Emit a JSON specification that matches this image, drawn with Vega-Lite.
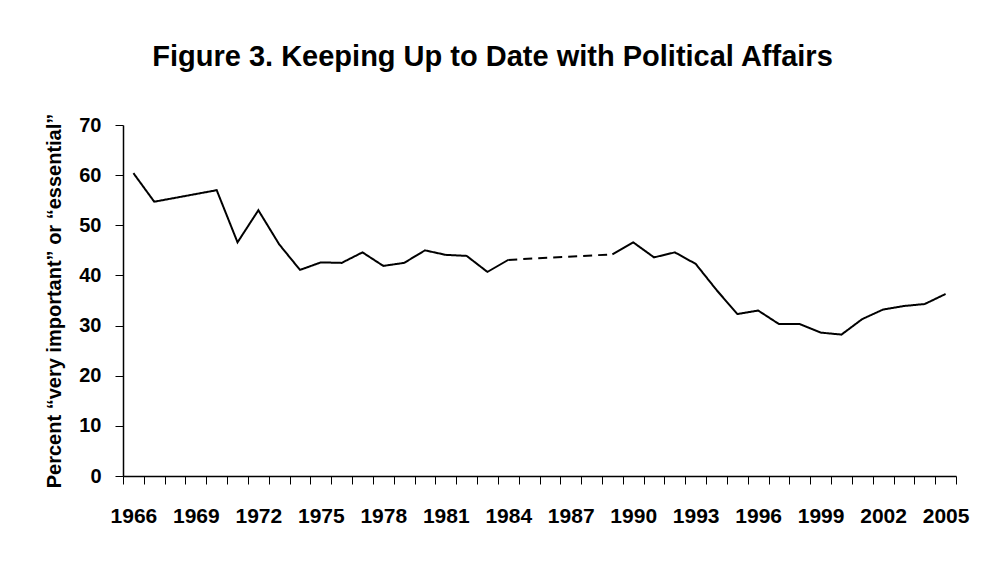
{
  "$schema": "https://vega.github.io/schema/vega-lite/v6.json",
  "width": 833,
  "height": 351,
  "autosize": {"type": "none"},
  "padding": {"left": 123, "top": 125, "right": 32, "bottom": 91},
  "background": "white",
  "config": {
    "view": {"stroke": null},
    "font": "Liberation Sans",
    "axis": {"domainColor": "black", "tickColor": "black", "labelColor": "black", "titleColor": "black", "grid": false}
  },
  "title": {
    "text": "Figure 3. Keeping Up to Date with Political Affairs",
    "font": "Liberation Sans",
    "fontSize": 29,
    "fontWeight": "bold",
    "color": "black",
    "anchor": "middle",
    "dx": -47,
    "offset": 41
  },
  "data": {
    "values": [
      {"year": 1966, "value": 60.4, "part": "A"},
      {"year": 1967, "value": 54.7, "part": "A"},
      {"year": 1970, "value": 57.0, "part": "A"},
      {"year": 1971, "value": 46.6, "part": "A"},
      {"year": 1972, "value": 53.0, "part": "A"},
      {"year": 1973, "value": 46.2, "part": "A"},
      {"year": 1974, "value": 41.1, "part": "A"},
      {"year": 1975, "value": 42.6, "part": "A"},
      {"year": 1976, "value": 42.5, "part": "A"},
      {"year": 1977, "value": 44.6, "part": "A"},
      {"year": 1978, "value": 41.9, "part": "A"},
      {"year": 1979, "value": 42.5, "part": "A"},
      {"year": 1980, "value": 45.0, "part": "A"},
      {"year": 1981, "value": 44.1, "part": "A"},
      {"year": 1982, "value": 43.9, "part": "A"},
      {"year": 1983, "value": 40.7, "part": "A"},
      {"year": 1984, "value": 43.1, "part": "A"},
      {"year": 1984, "value": 43.1, "part": "B"},
      {"year": 1989, "value": 44.2, "part": "B"},
      {"year": 1989, "value": 44.2, "part": "C"},
      {"year": 1990, "value": 46.6, "part": "C"},
      {"year": 1991, "value": 43.6, "part": "C"},
      {"year": 1992, "value": 44.6, "part": "C"},
      {"year": 1993, "value": 42.3, "part": "C"},
      {"year": 1994, "value": 37.1, "part": "C"},
      {"year": 1995, "value": 32.3, "part": "C"},
      {"year": 1996, "value": 33.0, "part": "C"},
      {"year": 1997, "value": 30.3, "part": "C"},
      {"year": 1998, "value": 30.3, "part": "C"},
      {"year": 1999, "value": 28.6, "part": "C"},
      {"year": 2000, "value": 28.2, "part": "C"},
      {"year": 2001, "value": 31.3, "part": "C"},
      {"year": 2002, "value": 33.2, "part": "C"},
      {"year": 2003, "value": 33.9, "part": "C"},
      {"year": 2004, "value": 34.3, "part": "C"},
      {"year": 2005, "value": 36.3, "part": "C"}
    ]
  },
  "mark": {"type": "line", "color": "black", "strokeWidth": 2},
  "encoding": {
    "x": {
      "field": "year",
      "type": "quantitative",
      "scale": {"domain": [1965.5, 2005.5], "nice": false, "zero": false},
      "axis": {
        "title": null,
        "values": [1965.5, 1966.5, 1967.5, 1968.5, 1969.5, 1970.5, 1971.5, 1972.5, 1973.5, 1974.5, 1975.5, 1976.5, 1977.5, 1978.5, 1979.5, 1980.5, 1981.5, 1982.5, 1983.5, 1984.5, 1985.5, 1986.5, 1987.5, 1988.5, 1989.5, 1990.5, 1991.5, 1992.5, 1993.5, 1994.5, 1995.5, 1996.5, 1997.5, 1998.5, 1999.5, 2000.5, 2001.5, 2002.5, 2003.5, 2004.5, 2005.5],
        "labelExpr": "((datum.value + 0.5 - 1966) % 3 === 0 && datum.value < 2005) ? '' + (datum.value + 0.5) : ''",
        "labelOffset": 10.4,
        "labelOverlap": false,
        "labelFlush": false,
        "labelFont": "Liberation Sans",
        "labelFontSize": 21,
        "labelFontWeight": "bold",
        "labelPadding": 21,
        "tickSize": 8,
        "tickWidth": 1,
        "domainWidth": 1.5
      }
    },
    "y": {
      "field": "value",
      "type": "quantitative",
      "scale": {"domain": [0, 70], "nice": false},
      "axis": {
        "title": "Percent “very important” or “essential”",
        "titleFont": "Liberation Sans",
        "titleFontSize": 20,
        "titleFontWeight": "bold",
        "titlePadding": 14,
        "values": [0, 10, 20, 30, 40, 50, 60, 70],
        "labelFont": "Liberation Sans",
        "labelFontSize": 20,
        "labelFontWeight": "bold",
        "labelPadding": 14,
        "tickSize": 8,
        "tickWidth": 1,
        "domainWidth": 1.5
      }
    },
    "detail": {"field": "part"},
    "strokeDash": {
      "field": "part",
      "type": "nominal",
      "scale": {"domain": ["A", "B", "C"], "range": [[1, 0], [9, 6], [1, 0]]},
      "legend": null
    }
  }
}
